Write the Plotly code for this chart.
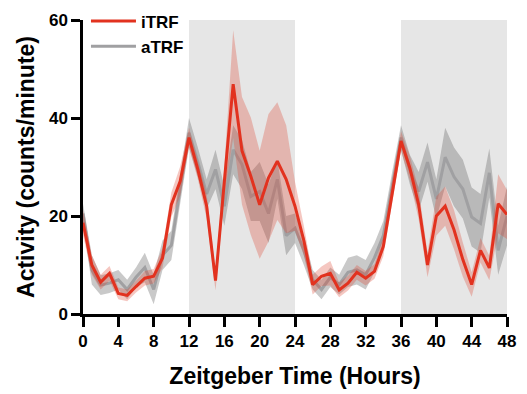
import plotly.graph_objects as go

hours = list(range(49))

itrf_mean = [18.6, 10.0, 6.5, 8.3, 4.2, 3.8, 5.6, 7.3, 7.7, 11.4, 22.3, 27.1, 36.0,
             29.5, 22.0, 6.8, 27.0, 46.9, 33.3, 28.1, 22.3, 27.8, 31.2, 27.5, 22.0,
             15.0, 6.0, 7.7, 8.3, 4.9, 6.3, 8.5, 7.3, 8.7, 13.8, 24.7, 35.3,
             29.8, 22.3, 10.0, 20.0, 22.0, 17.2, 11.1, 6.0, 13.0, 9.4, 22.5, 20.3]
itrf_sem = [2.5, 2, 1.5, 1.5, 1.2, 1.2, 1.2, 1.5, 1.5, 2, 2.5, 3, 2,
            2, 2.5, 2, 3, 11, 11, 12, 11, 13, 12, 11, 5,
            3, 2, 2, 2.5, 1.5, 1.5, 1.5, 1.5, 1.5, 2, 2.5, 2,
            2.5, 3, 2.5, 4, 4, 4, 3.5, 2.5, 2.5, 2.5, 6, 5]

atrf_mean = [20.5, 9.0, 5.9, 6.3, 7.0, 5.0, 7.5, 9.5, 5.0, 12.0, 14.0, 25.5, 37.0,
             31.0, 24.5, 29.5, 22.0, 33.5, 30.5, 24.0, 25.0, 20.5, 27.5, 16.0, 17.5,
             13.0, 7.0, 5.0, 7.5, 6.0, 8.5, 9.0, 8.0, 11.5, 16.0, 26.0, 36.0,
             29.5, 25.0, 31.0, 23.5, 32.0, 28.0, 25.5, 19.8, 18.5, 28.8, 13.0, 20.0]
atrf_sem = [2, 3, 2, 2, 2, 2, 2, 3, 3, 3, 3, 3, 3,
            3, 3, 4, 4, 5, 5, 5, 6, 6, 4, 4, 3,
            3, 2, 2, 2, 2, 3, 3, 3, 3, 3, 3, 2.5,
            3, 4, 4, 4, 6, 6, 6, 6, 6, 5, 5, 6]

dark_periods = [(12, 24), (36, 48)]
x_ticks = list(range(0, 49, 4))
y_ticks = [0, 20, 40, 60]

RED = "#E2321F"
RED_BAND = "rgba(222,70,50,0.30)"
GRAY = "#A0A0A2"
GRAY_BAND = "rgba(100,100,100,0.35)"
FONT = "Arial, Liberation Sans, sans-serif"


def band(x, m, e, color):
    up = [a + b for a, b in zip(m, e)]
    lo = [a - b for a, b in zip(m, e)]
    return go.Scatter(x=x + x[::-1], y=up + lo[::-1], fill="toself",
                      fillcolor=color, line=dict(width=0), mode="lines",
                      hoverinfo="skip", showlegend=False)


fig = go.Figure()
fig.add_trace(band(hours, atrf_mean, atrf_sem, GRAY_BAND))
fig.add_trace(go.Scatter(x=hours, y=atrf_mean, mode="lines", name="aTRF",
                         line=dict(color=GRAY, width=3), showlegend=False))
fig.add_trace(band(hours, itrf_mean, itrf_sem, RED_BAND))
fig.add_trace(go.Scatter(x=hours, y=itrf_mean, mode="lines", name="iTRF",
                         line=dict(color=RED, width=3)))
# legend entry for aTRF (after iTRF)
fig.add_trace(go.Scatter(x=[None], y=[None], mode="lines", name="aTRF",
                         line=dict(color=GRAY, width=3)))

for x0, x1 in dark_periods:
    fig.add_shape(type="rect", xref="x", yref="y", x0=x0, x1=x1, y0=0, y1=60,
                  fillcolor="#E6E6E6", line=dict(width=0), layer="below")

fig.update_layout(
    width=527, height=394,
    margin=dict(l=83, r=20, t=20, b=80, autoexpand=False),
    paper_bgcolor="white", plot_bgcolor="white",
    font=dict(family=FONT, color="black"),
    showlegend=True,
    legend=dict(x=0.007, y=1.056, xanchor="left", yanchor="top",
                bgcolor="rgba(0,0,0,0)", font=dict(size=17, family=FONT, weight="bold"),
                itemwidth=45, tracegroupgap=0),
    xaxis=dict(range=[0, 48], tickvals=x_ticks, ticktext=[str(t) for t in x_ticks],
               automargin=False,
               showgrid=False, zeroline=False, showline=True, linecolor="black",
               linewidth=2.5, ticks="outside", ticklen=10, tickwidth=2.5, tickcolor="black",
               tickfont=dict(size=17, family=FONT, weight="bold"),
               title=dict(text="Zeitgeber Time (Hours)", font=dict(size=23, family=FONT, weight="bold"),
                          standoff=18)),
    yaxis=dict(range=[0, 60], tickvals=y_ticks, showgrid=False, zeroline=False,
               automargin=False,
               showline=True, linecolor="black", linewidth=2.5, ticks="outside",
               ticklen=9, tickwidth=2.5, tickcolor="black",
               tickfont=dict(size=17, family=FONT, weight="bold"),
               title=dict(text="Activity (counts/minute)", font=dict(size=23, family=FONT, weight="bold"),
                          standoff=8)),
)

fig.write_html("out.html", config={"displayModeBar": False},
               post_script="document.body.style.margin='0';document.body.style.overflow='hidden';")
